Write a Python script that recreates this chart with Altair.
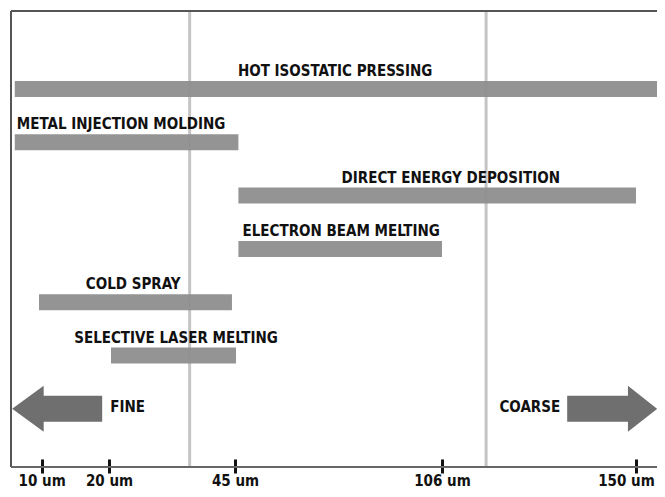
import altair as alt
import pandas as pd

# ---- data (particle size, um) ----
processes = ["HOT ISOSTATIC PRESSING", "METAL INJECTION MOLDING", "DIRECT ENERGY DEPOSITION",
             "ELECTRON BEAM MELTING", "COLD SPRAY", "SELECTIVE LASER MELTING"]
size_min = [6, 6, 46, 46, 9.6, 20.4]
size_max = [160, 46, 150, 106, 44.4, 45.3]
label_at = [74.5, 22.4, 108.0, 76.3, 24.8, 33.3]

tick_values = [10, 20, 45, 106, 150]
tick_labels = ["10 um", "20 um", "45 um", "106 um", "150\u00a0um"]
sieve_lines = [36, 116]

arrow_names = ["FINE", "COARSE"]
arrow_at = [12.3, 144.6]

lanes = processes + ["ARROWS"]

W, H = 646, 456
FONT = "Liberation Sans Narrow, Arial Narrow, DejaVu Sans Condensed, sans-serif"

bars_df = pd.DataFrame({"process": processes, "lo": size_min, "hi": size_max, "lab": label_at})
lines_df = pd.DataFrame({"x": sieve_lines})
arrows_df = pd.DataFrame({"name": arrow_names, "x": arrow_at, "lane": ["ARROWS"] * 2})
frame_df = pd.DataFrame({"a": [0]})

label_expr = ""
for v, t in zip(tick_values, tick_labels):
    label_expr += f"datum.value == {v} ? '{t}' : "
label_expr += "''"

xscale = alt.Scale(domain=tick_values, range=[30.7, 98, 224, 431, 625], nice=False, zero=False)
yscale = alt.Scale(domain=lanes, range=[70, 405.8], paddingInner=0.7, paddingOuter=0)

xaxis = alt.Axis(values=tick_values, labelExpr=label_expr, domain=False, grid=False,
                 ticks=True, tickSize=14, tickWidth=3, tickColor="#111", offset=-8,
                 labelFont=FONT, labelFontSize=15, labelFontWeight="bold", labelColor="#111",
                 labelPadding=0, labelOverlap=False, labelFlush=False,
                 labelOffset={"condition": {"test": f"datum.value == {tick_values[-1]}", "value": -10},
                              "value": 0},
                 title=None)

vlines = alt.Chart(lines_df).mark_rule(color="#c4c4c4", strokeWidth=3).encode(
    x=alt.X("x:Q", scale=xscale, axis=xaxis))

bars = alt.Chart(bars_df).mark_bar(color="#8e8e8e", opacity=0.95).encode(
    x=alt.X("lo:Q", scale=xscale, axis=xaxis),
    x2="hi:Q",
    y=alt.Y("process:N", scale=yscale, axis=None))

texts = alt.Chart(bars_df).mark_text(font=FONT, fontSize=15, fontWeight="bold", color="#111",
                                     align="center", baseline="middle", dy=-18).encode(
    x=alt.X("lab:Q", scale=xscale),
    y=alt.Y("process:N", scale=yscale, axis=None),
    text="process:N")

left_arrow = "M 1 -0.29 L -0.3 -0.29 L -0.3 -0.51 L -1 0 L -0.3 0.51 L -0.3 0.29 L 1 0.29 Z"
right_arrow = "M -1 -0.29 L 0.35 -0.29 L 0.35 -0.51 L 1 0 L 0.35 0.51 L 0.35 0.29 L -1 0.29 Z"

arrows = alt.Chart(arrows_df).mark_point(filled=True, size=8100, color="#6f6f6f",
                                         opacity=1, strokeWidth=0).encode(
    x=alt.X("x:Q", scale=xscale),
    y=alt.Y("lane:N", scale=yscale, axis=None),
    shape=alt.Shape("name:N", scale=alt.Scale(domain=arrow_names, range=[left_arrow, right_arrow]),
                    legend=None))

fine_text = alt.Chart(arrows_df).transform_filter("datum.name == 'FINE'").mark_text(
    font=FONT, fontSize=15, fontWeight="bold", color="#111", align="left", baseline="middle",
    dx=53, dy=-2).encode(
    x=alt.X("x:Q", scale=xscale),
    y=alt.Y("lane:N", scale=yscale, axis=None),
    text="name:N")

coarse_text = alt.Chart(arrows_df).transform_filter("datum.name == 'COARSE'").mark_text(
    font=FONT, fontSize=15, fontWeight="bold", color="#111", align="right", baseline="middle",
    dx=-52, dy=-2).encode(
    x=alt.X("x:Q", scale=xscale),
    y=alt.Y("lane:N", scale=yscale, axis=None),
    text="name:N")

frame_left = alt.Chart(frame_df).mark_rule(color="#555", strokeWidth=2).encode(x=alt.value(0))
frame_top = alt.Chart(frame_df).mark_rule(color="#555", strokeWidth=2).encode(y=alt.value(0))
frame_bottom = alt.Chart(frame_df).mark_rule(color="#666", strokeWidth=2).encode(y=alt.value(H))

chart = alt.layer(vlines, bars, texts, arrows, fine_text, coarse_text,
                  frame_left, frame_top, frame_bottom).properties(
    width=W, height=H,
    autosize=alt.AutoSizeParams(type="none"),
    padding={"left": 3, "top": 3, "right": 0, "bottom": 22},
    background="white",
).configure_view(stroke=None)

chart.save("out.html", embed_options={"renderer": "svg", "actions": False})
